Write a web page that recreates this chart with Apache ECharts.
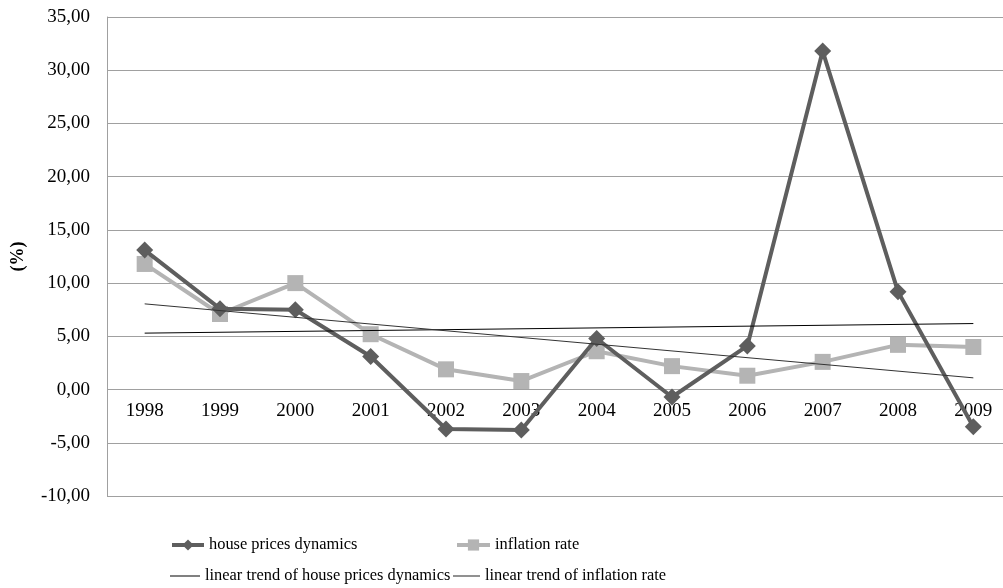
<!DOCTYPE html>
<html>
<head>
<meta charset="utf-8">
<script src="https://cdn.jsdelivr.net/npm/echarts@6/dist/echarts.min.js"></script>
<style>
  html, body { margin: 0; padding: 0; background: #fff; overflow: hidden; }
  #chart { width: 1012px; height: 588px; }
</style>
</head>
<body>
<div id="chart"></div>
<script>
// data
const years = ['1998', '1999', '2000', '2001', '2002', '2003', '2004', '2005', '2006', '2007', '2008', '2009'];
const housePrices = [13.1, 7.6, 7.5, 3.1, -3.7, -3.8, 4.8, -0.7, 4.1, 31.8, 9.2, -3.5];
const inflation = [11.8, 7.1, 10.0, 5.2, 1.9, 0.8, 3.6, 2.2, 1.3, 2.6, 4.2, 4.0];
// trend lines: only the two end points, joined straight
const houseTrend = [5.3, null, null, null, null, null, null, null, null, null, null, 6.2];
const inflationTrend = [8.05, null, null, null, null, null, null, null, null, null, null, 1.1];

const font = 'Liberation Serif, Times New Roman, serif';

const myChart = echarts.init(document.getElementById('chart'));

const legendBase = {
    itemHeight: 14,
    itemGap: 0,
    textStyle: { fontFamily: font, fontSize: 16.4, color: '#000' },
    selectedMode: false
};

const option = {
    animation: false,
    backgroundColor: '#fff',
    grid: {
        left: 107,
        top: 17,
        width: 904,
        height: 479
    },
    legend: [
        Object.assign({}, legendBase, { data: ['house prices dynamics'], left: 165, top: 532, itemWidth: 32, lineStyle: { width: 4 } }),
        Object.assign({}, legendBase, { data: ['inflation rate'], left: 450, top: 532, itemWidth: 33, lineStyle: { width: 4 } }),
        Object.assign({}, legendBase, {
            data: [{ name: 'linear trend of house prices dynamics', icon: 'rect', itemStyle: { color: '#000' } }],
            left: 165, top: 563, itemWidth: 30, itemHeight: 1
        }),
        Object.assign({}, legendBase, {
            data: [{ name: 'linear trend of inflation rate', icon: 'rect', itemStyle: { color: '#222' } }],
            left: 448, top: 563, itemWidth: 27, itemHeight: 1
        })
    ],
    xAxis: {
        type: 'category',
        data: years,
        boundaryGap: true,
        position: 'bottom',
        offset: -107,
        axisLine: { show: false, onZero: false },
        axisTick: { show: false },
        axisLabel: { fontFamily: font, fontSize: 19, color: '#000', margin: 13 }
    },
    yAxis: {
        type: 'value',
        min: -10,
        max: 35,
        interval: 5,
        name: '(%)',
        nameLocation: 'middle',
        nameGap: 80,
        nameRotate: 90,
        nameTextStyle: { fontFamily: font, fontSize: 18, fontWeight: 'bold', color: '#000' },
        axisLine: { show: true, lineStyle: { color: '#a0a0a0', width: 1 } },
        axisTick: { show: false },
        axisLabel: {
            fontFamily: font, fontSize: 19, color: '#000', margin: 17,
            formatter: v => v.toFixed(2).replace('.', ',')
        },
        splitLine: { show: true, lineStyle: { color: '#a0a0a0', width: 1 } }
    },
    series: [
        {
            name: 'house prices dynamics',
            type: 'line',
            data: housePrices,
            symbol: 'diamond',
            symbolSize: [17, 17],
            lineStyle: { color: '#5e5e5e', width: 4 },
            itemStyle: { color: '#5e5e5e' },
            z: 3
        },
        {
            name: 'inflation rate',
            type: 'line',
            data: inflation,
            symbol: 'rect',
            symbolSize: [16, 16],
            lineStyle: { color: '#b4b4b4', width: 4 },
            itemStyle: { color: '#b4b4b4' },
            z: 2
        },
        {
            name: 'linear trend of house prices dynamics',
            type: 'line',
            data: houseTrend,
            connectNulls: true,
            symbol: 'none',
            lineStyle: { color: '#000', width: 1 },
            itemStyle: { color: '#000' },
            z: 4
        },
        {
            name: 'linear trend of inflation rate',
            type: 'line',
            data: inflationTrend,
            connectNulls: true,
            symbol: 'none',
            lineStyle: { color: '#333', width: 1 },
            itemStyle: { color: '#333' },
            z: 4
        }
    ]
};

myChart.setOption(option);
</script>
</body>
</html>
